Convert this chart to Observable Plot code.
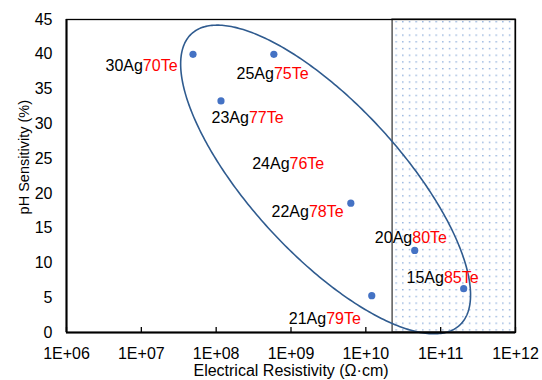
<!DOCTYPE html>
<html><head><meta charset="utf-8">
<script src="https://cdn.jsdelivr.net/npm/d3@7"></script>
<script src="https://cdn.jsdelivr.net/npm/@observablehq/plot@0.6"></script>
<style>
body{margin:0;background:#fff;}
svg{font-family:"Liberation Sans",Arial,sans-serif;}
</style>
</head><body><div id="chart"></div>
<script>
// ---- data ----
const compositions = ["30Ag70Te","25Ag75Te","23Ag77Te","22Ag78Te","20Ag80Te","15Ag85Te","21Ag79Te"];
const resistivity  = [4.9e7, 5.9e8, 1.16e8, 6.3e9, 4.5e10, 2.03e11, 1.2e10];
const sensitivity  = [40, 40, 33.3, 18.6, 11.8, 6.3, 5.3];

const labelTexts = ["30Ag70Te","25Ag75Te","23Ag77Te","24Ag76Te","22Ag78Te","20Ag80Te","15Ag85Te","21Ag79Te"];
const labelX = [3.32e6, 1.87e8, 8.67e7, 3.03e8, 5.49e8, 1.32e10, 3.50e10, 9.35e8];
const labelY = [38.4, 37.2, 30.8, 24.3, 17.3, 13.6, 7.9, 2.0];

const xTicks = [1e6, 1e7, 1e8, 1e9, 1e10, 1e11, 1e12];
const yTicks = [0, 5, 10, 15, 20, 25, 30, 35, 40, 45];
const shadedRegion = [{x1: 2.28e10, x2: 1e12, y1: 0, y2: 45}];
const ellipseCenter = {x: 2.9e9, y: 22};

// ---- layout ----
const W = 542, H = 380, mL = 66, mR = 27, mT = 19, mB = 48;
const pxPerDecade = (W - mL - mR) / 6;
const pxPerUnit = (H - mT - mB) / 45;
const ellA = 198, ellB = 75, ellAngle = 47.4 * Math.PI / 180;

const points = compositions.map((c, i) => ({c, x: resistivity[i], y: sensitivity[i]}));
const labels = labelTexts.map((t, i) => ({t, x: labelX[i], y: labelY[i]}));

const ellipsePts = d3.range(0, 361).map(deg => {
  const t = deg * Math.PI / 180;
  const dx = ellA * Math.cos(t) * Math.cos(ellAngle) - ellB * Math.sin(t) * Math.sin(ellAngle);
  const dy = ellA * Math.cos(t) * Math.sin(ellAngle) + ellB * Math.sin(t) * Math.cos(ellAngle);
  return {x: Math.pow(10, Math.log10(ellipseCenter.x) + dx / pxPerDecade), y: ellipseCenter.y - dy / pxPerUnit};
});

const fmt = d => "1E+" + String(Math.round(Math.log10(d))).padStart(2, "0");

const chart = Plot.plot({
  width: W, height: H,
  marginLeft: mL, marginRight: mR, marginTop: mT, marginBottom: mB,
  style: {fontSize: "16px", fontFamily: '"Liberation Sans", Arial, sans-serif', color: "#000", background: "#fff"},
  x: {type: "log", domain: [1e6, 1e12]},
  y: {domain: [0, 45]},
  marks: [
    Plot.rect(shadedRegion, {x1: "x1", x2: "x2", y1: "y1", y2: "y2", fill: "white", stroke: "#595959", strokeWidth: 1.5}),
    Plot.line(ellipsePts, {x: "x", y: "y", stroke: "#2F5B8F", strokeWidth: 1.6}),
    Plot.dot(points, {x: "x", y: "y", r: 3.6, fill: "#4472C4", stroke: "none"}),
    Plot.text(labels, {x: "x", y: "y", text: "t", textAnchor: "start", lineAnchor: "middle", fill: "#000", fontSize: 16}),
    Plot.frame({stroke: "#000", strokeWidth: 1.3}),
    Plot.ruleX([1e6], {stroke: "#000", strokeWidth: 2}),
    Plot.ruleY([0], {stroke: "#000", strokeWidth: 2}),
    Plot.ruleX(xTicks, {y1: 0, y2: 0, insetTop: -5, stroke: "#000", strokeWidth: 1.3}),
    Plot.axisX(xTicks, {tickFormat: fmt, tickSize: 0, tickPadding: 15, label: null, fill: "#000", fontSize: 16}),
    Plot.axisY(yTicks, {tickSize: 0, tickPadding: 14, label: null, fill: "#000", fontSize: 16}),
    Plot.text(["Electrical Resistivity (Ω·cm)"], {frameAnchor: "bottom", dy: 38.5, textAnchor: "middle", lineAnchor: "middle", fill: "#000", fontSize: 16}),
    Plot.text(["pH Sensitivity (%)"], {frameAnchor: "left", rotate: -90, dx: -42.3, dy: -18.8, textAnchor: "middle", lineAnchor: "middle", fill: "#000", fontSize: 14.5})
  ]
});

const svg = d3.select(chart);
const defs = svg.insert("defs", ":first-child");
const pat = defs.append("pattern").attr("id", "dots").attr("patternUnits", "userSpaceOnUse")
  .attr("width", 6.67).attr("height", 6.7);
pat.append("rect").attr("width", 6.67).attr("height", 6.7).attr("fill", "#fff");
pat.append("rect").attr("x", 2).attr("y", 1).attr("width", 1.3).attr("height", 1.3).attr("fill", "#4F81C7").attr("fill-opacity", 0.75);
svg.selectAll('g[aria-label="rect"] rect').attr("fill", "url(#dots)");

svg.selectAll("text").each(function() {
  const t = this.textContent;
  const m = t.match(/^(\d+Ag)(\d+Te)$/);
  if (!m) return;
  const s = d3.select(this);
  s.text(null);
  s.append("tspan").attr("fill", "#000").text(m[1]);
  s.append("tspan").attr("fill", "#ff0000").text(m[2]);
});

document.getElementById("chart").appendChild(chart);
</script>
</body></html>
